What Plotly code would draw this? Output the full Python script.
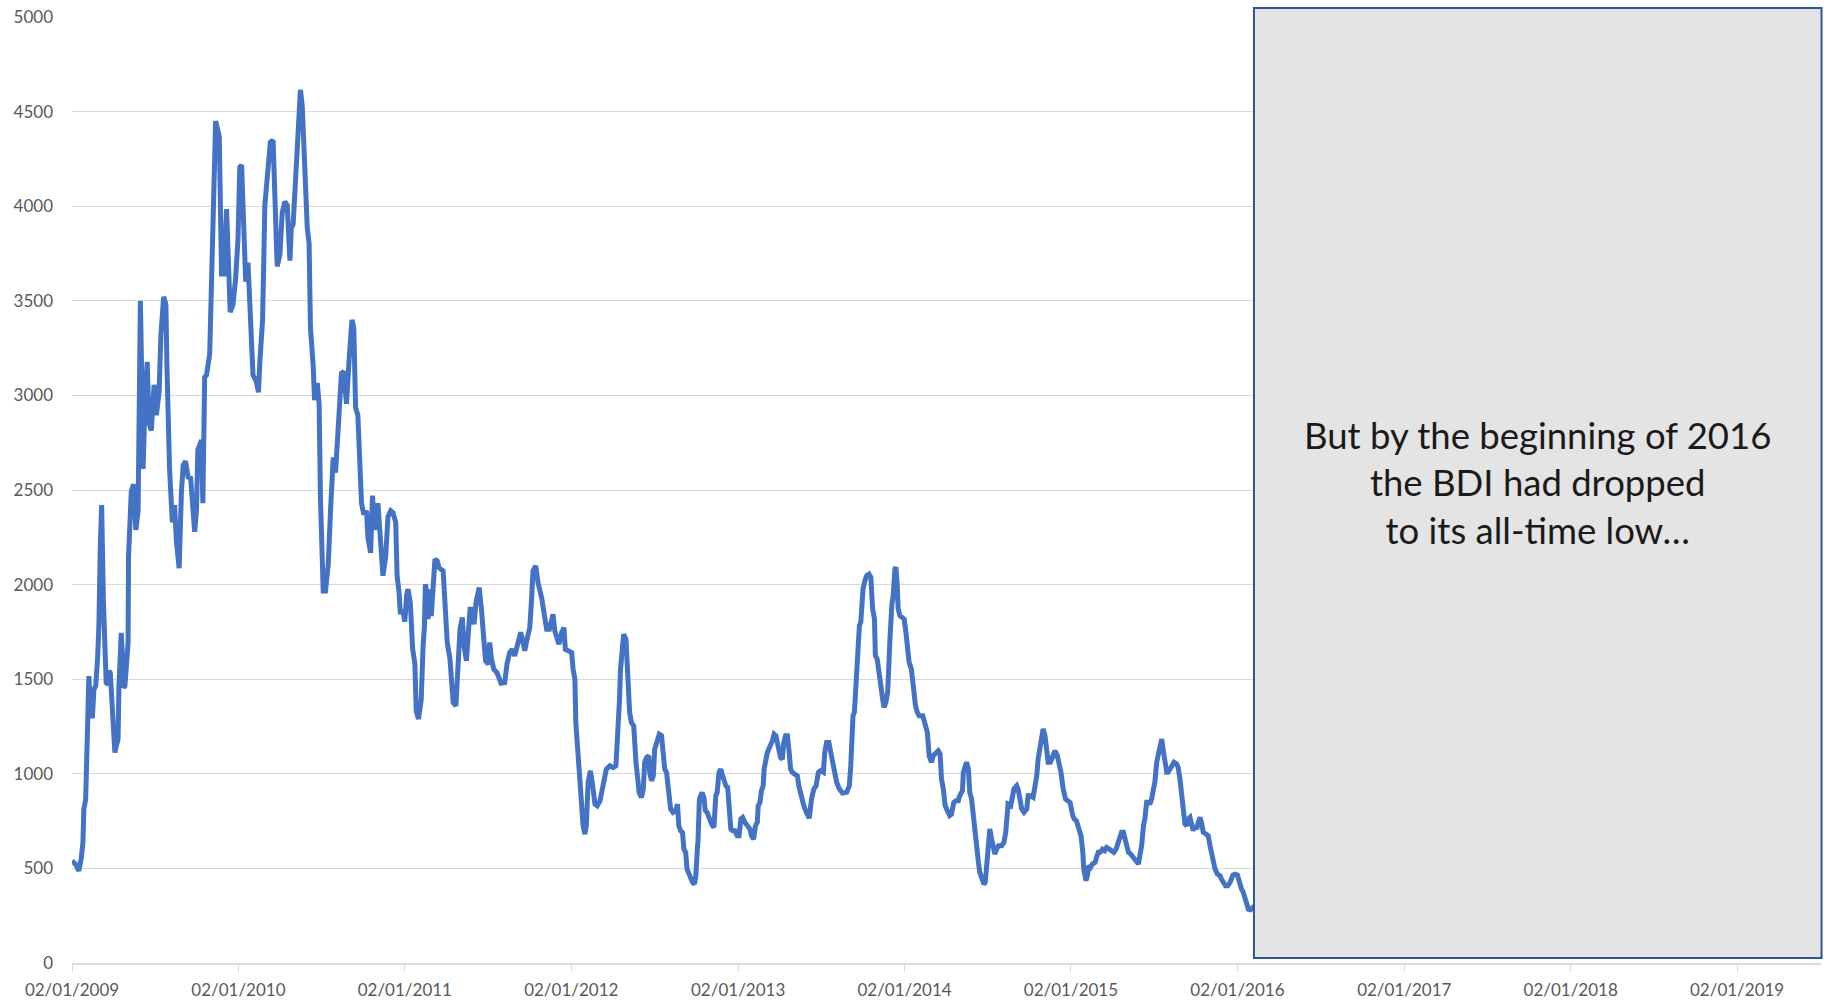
import pandas as pd
import plotly.graph_objects as go

# ---------------- data ----------------
start_date = "2009-01-02"
day_offsets = [
    0, 8, 15, 20, 24, 26, 30, 32, 34, 37, 41, 45, 48, 52, 56, 59, 62, 65, 69, 75,
    79, 81, 84, 86, 90, 94, 97, 101, 103, 106, 108, 111, 113, 116, 119, 123, 124, 130, 135, 140,
    145, 147, 150, 154, 156, 160, 165, 169, 174, 180, 185, 191, 195, 201, 206, 208, 214, 220, 225, 229,
    235, 240, 244, 249, 255, 260, 266, 269, 273, 276, 284, 287, 291, 295, 302, 306, 311, 315, 323, 328,
    333, 339, 344, 347, 353, 359, 364, 368, 372, 377, 381, 386, 390, 397, 404, 409, 412, 418, 423, 430,
    435, 441, 445, 450, 456, 461, 467, 472, 478, 481, 485, 489, 494, 498, 501, 505, 510, 516, 520, 523,
    529, 532, 538, 542, 545, 551, 556, 562, 567, 573, 578, 584, 591, 596, 602, 608, 614, 618, 622, 627,
    631, 635, 640, 646, 649, 655, 659, 664, 671, 679, 682, 688, 693, 699, 704, 710, 713, 717, 720, 726,
    730, 734, 737, 742, 747, 752, 755, 760, 766, 770, 773, 775, 777, 781, 785, 788, 792, 796, 801, 805,
    814, 818, 823, 829, 832, 836, 842, 845, 851, 856, 860, 865, 869, 873, 878, 882, 886, 893, 898, 902,
    907, 913, 916, 920, 925, 932, 941, 949, 954, 960, 966, 971, 977, 984, 988, 993, 998, 1004, 1008, 1011,
    1017, 1022, 1030, 1035, 1041, 1047, 1052, 1055, 1059, 1063, 1068, 1074, 1079, 1082, 1088, 1096, 1099, 1103, 1105, 1108,
    1110, 1114, 1117, 1121, 1125, 1128, 1132, 1137, 1142, 1147, 1152, 1158, 1161, 1166, 1172, 1180, 1187, 1193, 1196, 1199,
    1201, 1203, 1207, 1210, 1215, 1218, 1220, 1223, 1227, 1232, 1237, 1240, 1244, 1249, 1253, 1256, 1260, 1265, 1267, 1271,
    1275, 1278, 1283, 1288, 1293, 1297, 1300, 1304, 1308, 1313, 1318, 1324, 1328, 1331, 1335, 1339, 1342, 1346, 1349, 1353,
    1357, 1361, 1365, 1368, 1372, 1373, 1376, 1378, 1382, 1386, 1389, 1393, 1397, 1400, 1405, 1408, 1412, 1415, 1419, 1423,
    1427, 1430, 1434, 1438, 1441, 1445, 1449, 1454, 1459, 1463, 1467, 1471, 1476, 1481, 1487, 1490, 1495, 1499, 1503, 1505,
    1509, 1512, 1516, 1518, 1521, 1525, 1528, 1532, 1536, 1540, 1544, 1547, 1550, 1554, 1558, 1561, 1565, 1569, 1573, 1576,
    1580, 1585, 1591, 1594, 1598, 1601, 1605, 1610, 1614, 1617, 1622, 1627, 1632, 1637, 1642, 1648, 1651, 1655, 1660, 1664,
    1668, 1672, 1677, 1683, 1690, 1699, 1705, 1708, 1710, 1713, 1716, 1719, 1722, 1725, 1727, 1730, 1732, 1735, 1739, 1743,
    1748, 1752, 1756, 1760, 1762, 1766, 1770, 1774, 1778, 1781, 1785, 1789, 1791, 1794, 1798, 1801, 1805, 1807, 1810, 1812,
    1816, 1822, 1825, 1829, 1832, 1836, 1841, 1845, 1850, 1854, 1858, 1866, 1871, 1876, 1880, 1885, 1889, 1895, 1900, 1904,
    1907, 1911, 1915, 1920, 1925, 1929, 1934, 1939, 1944, 1947, 1953, 1955, 1958, 1962, 1966, 1969, 1973, 1977, 1980, 1984,
    1988, 1991, 1995, 2000, 2003, 2006, 2010, 2013, 2017, 2021, 2024, 2028, 2032, 2039, 2044, 2048, 2050, 2053, 2059, 2062,
    2066, 2072, 2075, 2079, 2083, 2088, 2094, 2097, 2102, 2108, 2112, 2116, 2119, 2123, 2127, 2130, 2134, 2138, 2141, 2146,
    2151, 2156, 2161, 2165, 2169, 2174, 2179, 2184, 2189, 2195, 2198, 2203, 2208, 2213, 2217, 2219, 2224, 2227, 2230, 2234,
    2238, 2244, 2247, 2251, 2255, 2260, 2265, 2269, 2275, 2280, 2285, 2290, 2295, 2298, 2302, 2306, 2309, 2313, 2317, 2322,
    2325, 2330, 2335, 2339, 2342, 2346, 2350, 2353, 2357, 2361, 2364, 2368, 2372, 2375, 2379, 2383, 2386, 2390, 2393, 2397,
    2401, 2404, 2408, 2412, 2417, 2423, 2426, 2430, 2434, 2437, 2441, 2445, 2448, 2452, 2456, 2459, 2463, 2467, 2470, 2474,
    2478, 2481, 2487, 2492, 2496, 2499, 2503, 2507, 2512, 2518, 2521, 2525, 2530, 2535, 2540, 2546, 2551, 2556, 2560, 2565,
    2569, 2573, 2576, 2580, 2585, 2589, 2593,
]
bdi_values = [
    540, 522, 487, 549, 637, 813, 865, 1076, 1288, 1516, 1305, 1305, 1446, 1464, 1604, 1780, 2200, 2420, 1900, 1481,
    1472, 1543, 1534, 1428, 1217, 1112, 1147, 1182, 1464, 1604, 1745, 1604, 1455, 1464, 1604, 1692, 2150, 2491, 2531, 2289,
    2390, 2955, 3500, 2955, 2612, 2955, 3177, 2854, 2814, 3056, 2895, 3016, 3319, 3521, 3480, 3177, 2612, 2329, 2420, 2228,
    2087, 2491, 2632, 2652, 2561, 2571, 2309, 2279, 2390, 2713, 2763, 2430, 3096, 3107, 3218, 3561, 4005, 4450, 4369, 3642,
    3642, 3985, 3642, 3440, 3480, 3622, 3823, 4207, 4217, 3763, 3601, 3702, 3521, 3107, 3076, 3016, 3177, 3399, 4005, 4187,
    4338, 4348, 4005, 3682, 3743, 3965, 4025, 4005, 3712, 3884, 3904, 4076, 4349, 4530, 4615, 4530, 4227, 3884, 3803, 3359,
    3157, 2975, 3066, 2955, 2450, 1966, 1966, 2107, 2390, 2672, 2592, 2854, 3117, 3127, 2955, 3197, 3399, 3359, 2935, 2895,
    2693, 2430, 2370, 2390, 2248, 2168, 2470, 2289, 2430, 2188, 2047, 2147, 2359, 2390, 2380, 2329, 2047, 1966, 1855, 1855,
    1804, 1945, 1976, 1905, 1663, 1582, 1330, 1290, 1394, 1676, 1782, 2002, 1975, 1817, 1975, 1834, 1993, 2134, 2125, 2090,
    2072, 1905, 1694, 1606, 1500, 1377, 1359, 1465, 1764, 1826, 1676, 1597, 1729, 1870, 1870, 1790, 1905, 1984, 1870, 1729,
    1597, 1579, 1694, 1606, 1553, 1535, 1479, 1482, 1579, 1641, 1658, 1623, 1676, 1747, 1711, 1650, 1711, 1773, 1923, 2072,
    2099, 2011, 1931, 1834, 1764, 1764, 1834, 1843, 1755, 1711, 1685, 1747, 1773, 1658, 1650, 1641, 1553, 1500, 1271, 1165,
    1025, 972, 813, 725, 681, 725, 954, 1016, 937, 840, 831, 857, 893, 972, 1025, 1042, 1033, 1042, 1160, 1220,
    1400, 1550, 1711, 1738, 1711, 1535, 1518, 1324, 1271, 1253, 1060, 989, 901, 875, 919, 1060, 1086, 1095, 1007, 963,
    989, 1130, 1165, 1209, 1201, 1113, 1025, 1007, 901, 813, 796, 805, 840, 725, 699, 690, 602, 584, 496, 470,
    461, 426, 417, 452, 619, 640, 866, 884, 901, 875, 805, 796, 778, 752, 725, 717, 884, 901, 1007, 1025,
    989, 954, 937, 928, 822, 708, 699, 699, 672, 672, 761, 769, 743, 725, 708, 672, 655, 725, 743, 831,
    849, 910, 937, 1025, 1069, 1113, 1130, 1148, 1174, 1209, 1201, 1165, 1113, 1086, 1077, 1165, 1201, 1201, 1113, 1025,
    1007, 998, 989, 937, 901, 849, 831, 800, 769, 765, 867, 920, 937, 1008, 1017, 1008, 1113, 1166, 1166, 1113,
    1061, 1008, 955, 920, 898, 902, 937, 1043, 1219, 1307, 1325, 1466, 1572, 1713, 1783, 1801, 1924, 1977, 2021, 2048,
    2056, 2039, 1871, 1818, 1625, 1607, 1536, 1431, 1395, 1351, 1378, 1431, 1660, 1713, 1889, 1942, 2083, 2092, 1995, 1871,
    1836, 1827, 1818, 1748, 1642, 1589, 1554, 1448, 1360, 1325, 1307, 1307, 1272, 1219, 1096, 1061, 1096, 1113, 1122, 1105,
    973, 920, 832, 805, 779, 787, 849, 858, 858, 884, 911, 1008, 1043, 1061, 1025, 902, 867, 761, 691, 602,
    532, 479, 444, 417, 426, 514, 673, 708, 655, 602, 576, 602, 620, 620, 638, 691, 814, 840, 832, 884,
    920, 937, 920, 867, 814, 796, 814, 884, 884, 876, 920, 990, 1078, 1131, 1202, 1237, 1202, 1131, 1061, 1061,
    1096, 1122, 1096, 1061, 1008, 920, 867, 858, 849, 779, 761, 752, 717, 673, 585, 497, 435, 461, 514, 506,
    523, 532, 558, 585, 585, 602, 594, 611, 602, 594, 585, 602, 638, 664, 691, 691, 655, 620, 585, 576,
    567, 550, 532, 523, 567, 620, 726, 761, 849, 849, 840, 867, 920, 955, 1061, 1113, 1166, 1184, 1131, 1061,
    1008, 1008, 1025, 1043, 1061, 1052, 1034, 973, 867, 779, 735, 726, 761, 770, 717, 699, 726, 708, 743, 770,
    735, 691, 682, 673, 620, 585, 532, 497, 470, 461, 444, 426, 408, 408, 426, 465, 470, 465, 426, 391,
    373, 338, 312, 285, 282, 294, 300,
]
axis_end_date = "2019-07-05"
y_max = 5000
y_step = 500
annotation_text = "But by the beginning of 2016<br>the BDI had dropped<br>to its all-time low…"

dates = pd.Timestamp(start_date) + pd.to_timedelta(day_offsets, unit="D")

GRID = "#D9D9D9"
TICKFONT = dict(family="Lato, 'Open Sans', sans-serif", size=17, color="#595959")

fig = go.Figure()
fig.add_trace(go.Scatter(
    x=dates, y=bdi_values, mode="lines",
    line=dict(color="#4472C4", width=5),
    showlegend=False, hoverinfo="x+y",
))

fig.update_layout(
    width=1828, height=1004, autosize=False,
    margin=dict(l=72, r=7, t=17, b=41, autoexpand=False),
    paper_bgcolor="white", plot_bgcolor="white",
    xaxis=dict(
        type="date", automargin=False,
        range=[start_date, axis_end_date],
        tick0=start_date, dtick="M12", tickformat="%d/%m/%Y",
        showgrid=False, zeroline=False,
        showline=True, linecolor=GRID, linewidth=2,
        ticks="outside", ticklen=7, tickcolor=GRID, tickwidth=1,
        tickfont=TICKFONT, ticklabelstandoff=4,
    ),
    yaxis=dict(
        automargin=False,
        range=[0, y_max], dtick=y_step, tick0=0,
        showgrid=True, gridcolor=GRID, gridwidth=1,
        zeroline=False, showline=False, ticks="",
        tickfont=TICKFONT, ticklabelstandoff=18,
    ),
    shapes=[dict(
        type="rect", xref="paper", yref="paper",
        x0=0.6758, x1=1.0003, y0=0.0053, y1=1.0095,
        fillcolor="#E4E4E4", line=dict(color="#2F5597", width=2),
        layer="above",
    )],
    annotations=[dict(
        xref="paper", yref="paper", x=0.838, y=0.508,
        text=annotation_text, showarrow=False,
        xanchor="center", yanchor="middle", align="center",
        font=dict(family="Lato, 'Open Sans', sans-serif", size=36.5, color="#1A1A1A"),
    )],
)

fig.write_html("out.html")
